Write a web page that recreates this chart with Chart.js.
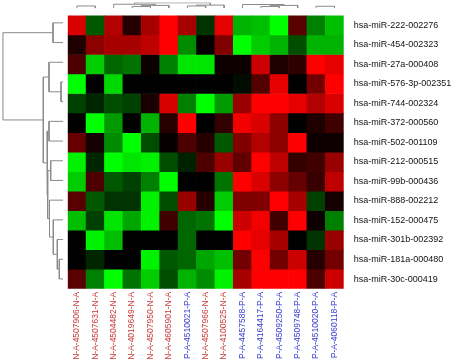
<!DOCTYPE html>
<html><head><meta charset="utf-8">
<script src="https://cdn.jsdelivr.net/npm/chart.js@4.4.1/dist/chart.umd.min.js"></script>
<style>
html,body{margin:0;padding:0;background:#fff;}
#wrap{position:relative;width:460px;height:361px;overflow:hidden;background:#fff;}
canvas{position:absolute;left:0;top:0;}
</style></head><body>
<div id="wrap">
<canvas id="heat" width="460" height="361"></canvas>
<canvas id="rowTree" width="68" height="361"></canvas>
<canvas id="colTree" width="460" height="13"></canvas>
</div>
<script>
// ---- categories ----
const columnLabels = ["N-A-4507906-N-A","N-A-4507631-N-A","N-A-4504482-N-A","N-A-4019649-N-A","N-A-4507950-N-A","N-A-4605901-N-A","P-A-4510021-P-A","N-A-4507966-N-A","N-A-4100525-N-A","P-A-4457588-P-A","P-A-4164417-P-A","P-A-4509250-P-A","P-A-4509748-P-A","P-A-4510020-P-A","P-A-4060118-P-A"];
const rowLabels = ["hsa-miR-222-002276","hsa-miR-454-002323","hsa-miR-27a-000408","hsa-miR-576-3p-002351","hsa-miR-744-002324","hsa-miR-372-000560","hsa-miR-502-001109","hsa-miR-212-000515","hsa-miR-99b-000436","hsa-miR-888-002212","hsa-miR-152-000475","hsa-miR-301b-002392","hsa-miR-181a-000480","hsa-miR-30c-000419"];

// ---- series values (scaled expression, -1 green .. 0 black .. +1 red) ----
const miR222  = [0.85,-0.35,0.7,0.15,0.65,1.0,0.65,-0.2,0.9,-0.7,-0.75,-1.0,0.35,-0.5,-0.75];
const miR454  = [0.12,0.55,0.65,0.65,0.75,1.0,-0.55,0.02,0.5,-1.0,-0.8,-0.7,-0.3,-0.7,-0.7];
const miR27a  = [0.3,-0.8,-0.4,-0.45,0.05,-0.5,-0.9,-0.9,0.05,0.05,0.8,0.12,0.18,1.0,0.9];
const miR576  = [-1.0,0,-0.85,0,0,0,0,0,0,-0.05,0.32,0.9,0,0.45,1.0];
const miR744  = [-0.25,-0.15,-0.3,-0.25,0.1,0.85,-0.5,-1.0,-0.6,0.6,1.0,1.0,0.9,0.7,0.85];
const miR372  = [0,-1.0,-0.6,0,-0.7,0.15,1.0,0,0.2,0.95,0.85,0.55,0,0.12,0.25];
const miR502  = [0.4,0.08,-0.55,-1.0,-0.3,0.03,0.3,0.15,-0.35,0.5,0.7,0.55,1.0,0.05,0.05];
const miR212  = [-0.95,-0.15,-1.0,-0.9,-0.95,-0.3,-0.13,0.3,0.6,0.38,1.0,0.75,0.2,0.25,0.6];
const miR99b  = [-0.8,0.3,-0.35,-0.25,-0.5,-1.0,0,0,-0.45,1.0,0.85,0.55,0.4,0.22,0.75];
const miR888  = [0.35,-0.35,-0.2,-0.2,-0.95,-0.3,0.6,0.15,-0.8,0.5,0.5,1.0,0.65,-0.25,0.08];
const miR152  = [-0.75,-0.25,-0.9,-0.65,-0.95,0.25,-0.4,-0.45,-1.0,0.8,0.95,0.25,1.0,0.05,-0.5];
const miR301b = [0,-0.95,-0.75,0,0,0,-0.4,0,0,1.0,0.9,0.65,0,-0.2,0.6];
const miR181a = [0,-0.15,0,0,-0.95,-0.35,-0.4,-0.65,-0.75,0.45,1.0,0.45,0.8,0.15,0.45];
const miR30c  = [0.35,-0.5,-1.0,-0.45,-0.8,-0.3,-0.7,-0.55,-0.95,0.65,1.0,1.0,1.0,0.3,0.8];
const rowValues = [miR222,miR454,miR27a,miR576,miR744,miR372,miR502,miR212,miR99b,miR888,miR152,miR301b,miR181a,miR30c];

// ---- dendrogram merges: [nodeA, nodeB, height]; leaves first, new nodes numbered after ----
const rowMerges = [[3,4,2],[12,13,3.7],[11,15,5.7],[0,1,10],[10,16,9.7],[9,18,13.5],[7,8,12.3],[2,14,14],[5,6,14],[20,19,15.3],[22,23,16],[21,24,19.7],[17,25,60.3]];
const colMerges = [[0,1,4],[3,4,3],[16,5,5],[2,17,7],[6,7,4],[19,8,5.5],[18,20,9.5],[10,11,3],[22,12,5],[9,23,6.5],[13,14,3.5]];

const FONT = "'Liberation Sans', Arial, sans-serif";
function cellColor(v){
  return v >= 0 ? `rgb(${Math.round(255*v)},0,0)` : `rgb(0,${Math.round(-255*v)},0)`;
}
function colColor(lbl){ return lbl.startsWith('P-A') ? '#3a3ad0' : '#c83a3a'; }

// ---- heatmap ----
const datasets = rowValues.map((vals,i)=>({
  label: rowLabels[i],
  data: vals.map(()=>1),
  backgroundColor: vals.map(cellColor),
  borderWidth: 0,
  barPercentage: 1,
  categoryPercentage: 1,
  stack: 'heat',
  xAxisID: 'x',
  yAxisID: 'y'
}));

new Chart(document.getElementById('heat'), {
  type: 'bar',
  data: { labels: columnLabels, datasets },
  options: {
    responsive: false, animation: false, devicePixelRatio: 1,
    layout: { padding: { left: 67.7, top: 13, right: 0, bottom: 0 } },
    plugins: { legend: { display: false }, tooltip: { enabled: false } },
    scales: {
      x: {
        type: 'category', stacked: true, offset: true,
        grid: { display: false, drawTicks: false }, border: { display: false },
        ticks: { autoSkip: false, minRotation: 90, maxRotation: 90, padding: 3,
          font: { family: FONT, size: 8.5 },
          color: c => colColor(columnLabels[c.index] || '') },
        afterFit: s => { s.height = 72.2; }
      },
      y: { type: 'linear', stacked: true, min: 0, max: 14, reverse: true, display: false },
      rows: {
        type: 'category', labels: rowLabels, position: 'right', offset: true,
        grid: { display: false, drawTicks: false }, border: { display: false },
        ticks: { autoSkip: false, padding: 10, color: '#111', font: { family: FONT, size: 9 } },
        afterFit: s => { s.width = 116.3; }
      }
    }
  }
});

// ---- dendrograms ----
function treeSegments(leafCount, merges){
  const pos = [], ht = [];
  for (let i=0;i<leafCount;i++){ pos.push(i+0.5); ht.push(0); }
  return merges.map(([a,b,h])=>{
    const seg = [{p:pos[a],h:ht[a]},{p:pos[a],h:h},{p:pos[b],h:h},{p:pos[b],h:ht[b]}];
    pos.push((pos[a]+pos[b])/2); ht.push(h);
    return seg;
  });
}
const lineStyle = { showLine: true, pointRadius: 0, borderColor: '#8a8a8a', borderWidth: 1, tension: 0, fill: false };

new Chart(document.getElementById('rowTree'), {
  type: 'scatter',
  data: { datasets: treeSegments(rowLabels.length, rowMerges).map(seg=>({
    ...lineStyle, data: seg.map(q=>({x:q.h, y:q.p})) })) },
  options: {
    responsive: false, animation: false, devicePixelRatio: 1,
    layout: { padding: { left: 2.7, right: 5, top: 13, bottom: 72.2 } },
    plugins: { legend: { display: false }, tooltip: { enabled: false } },
    scales: {
      x: { type: 'linear', min: 0, max: 60.3, reverse: true, display: false },
      y: { type: 'linear', min: 0, max: 14, reverse: true, display: false }
    }
  }
});

new Chart(document.getElementById('colTree'), {
  type: 'scatter',
  data: { datasets: treeSegments(columnLabels.length, colMerges).map(seg=>({
    ...lineStyle, data: seg.map(q=>({x:q.p, y:q.h})) })) },
  options: {
    responsive: false, animation: false, devicePixelRatio: 1,
    layout: { padding: { left: 67.7, right: 116.3, top: 2.5, bottom: 4.7 } },
    plugins: { legend: { display: false }, tooltip: { enabled: false } },
    scales: {
      x: { type: 'linear', min: 0, max: 15, display: false },
      y: { type: 'linear', min: 0, max: 10, display: false }
    }
  }
});
</script>
</body></html>
